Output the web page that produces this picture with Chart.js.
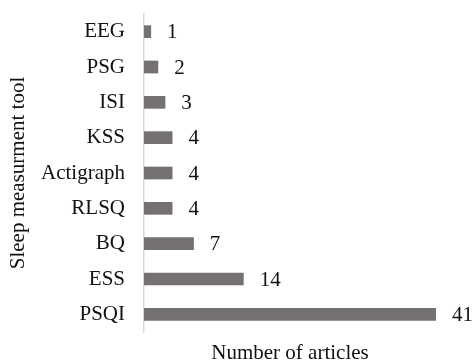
<!DOCTYPE html>
<html lang="en">
<head>
  <meta charset="UTF-8" />
  <title>Sleep measurement tools</title>
  <script src="https://cdn.jsdelivr.net/npm/chart.js"></script>
  <style>
    html, body {
      margin: 0;
      padding: 0;
      background: #fff;
    }
    #wrap {
      width: 474px;
      height: 363px;
    }
  </style>
</head>
<body>
  <div id="wrap"><canvas id="chart"></canvas></div>

  <script>
    // data, top to bottom
    const tools = ['EEG', 'PSG', 'ISI', 'KSS', 'Actigraph', 'RLSQ', 'BQ', 'ESS', 'PSQI'];
    const articles = [1, 2, 3, 4, 4, 4, 7, 14, 41];

    const serif = '"Liberation Serif", "Times New Roman", serif';

    // value labels at the end of each bar
    const barLabels = {
      id: 'barLabels',
      afterDatasetsDraw(chart) {
        const ctx = chart.ctx;
        const meta = chart.getDatasetMeta(0);
        ctx.save();
        ctx.font = '21px ' + serif;
        ctx.fillStyle = '#111';
        ctx.textAlign = 'left';
        ctx.textBaseline = 'middle';
        meta.data.forEach((bar, i) => {
          ctx.fillText(articles[i], bar.x + 16, bar.y + 1);
        });
        ctx.restore();
      }
    };

    new Chart(document.getElementById('chart'), {
      type: 'bar',
      data: {
        labels: tools,
        datasets: [{
          data: articles,
          backgroundColor: '#767171',
          barPercentage: 0.36,
          categoryPercentage: 1
        }]
      },
      options: {
        indexAxis: 'y',
        responsive: true,
        maintainAspectRatio: false,
        animation: false,
        layout: { padding: { top: 14, right: 38, bottom: 0, left: 6 } },
        plugins: {
          legend: { display: false },
          tooltip: { enabled: false }
        },
        scales: {
          x: {
            min: 0,
            max: 41,
            grid: { display: false, drawTicks: false },
            border: { display: false },
            ticks: { display: false },
            title: {
              display: true,
              text: 'Number of articles',
              color: '#111',
              font: { family: serif, size: 21 },
              padding: { top: 6, bottom: -3 }
            },
            afterFit(scale) {
              scale.height = 31;
              scale.paddingLeft = 0;
              scale.paddingRight = 0;
            }
          },
          y: {
            grid: { display: false, drawTicks: false },
            border: { display: true, color: '#d9d9d9', width: 1.5 },
            ticks: {
              color: '#111',
              font: { family: serif, size: 21 },
              padding: 19
            },
            title: {
              display: true,
              text: 'Sleep measurment tool',
              color: '#111',
              font: { family: serif, size: 21 },
              padding: { top: 0, bottom: 14 }
            },
            afterFit(scale) {
              scale.width = 138;
              scale.paddingTop = 0;
              scale.paddingBottom = 0;
            }
          }
        }
      },
      plugins: [barLabels]
    });
  </script>
</body>
</html>
